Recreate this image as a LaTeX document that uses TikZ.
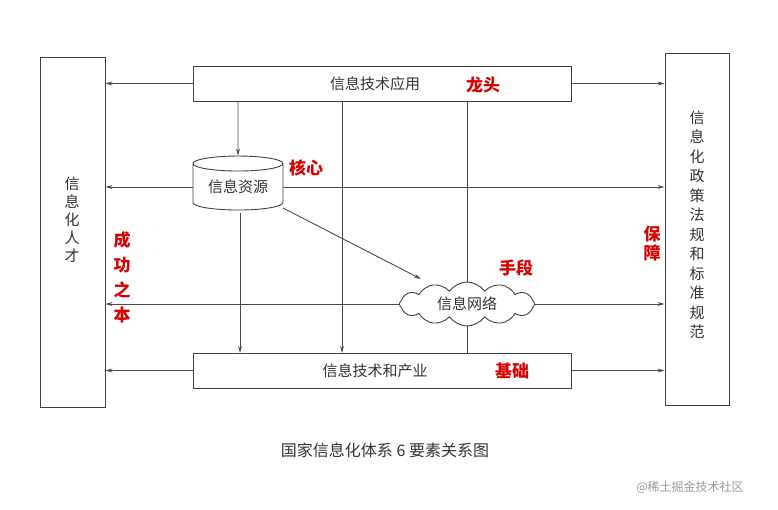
\documentclass[tikz,border=0pt]{standalone}
\usepackage{fontspec}
\setmainfont{Noto Sans CJK SC}
\usetikzlibrary{shapes.geometric,shapes.symbols,arrows.meta,backgrounds}
\begin{document}
\begin{tikzpicture}[x=1pt,y=-1pt,
  box/.style={draw=black!75,line width=0.9pt,inner sep=0pt,fill=white},
  lbl/.style={font=\fontsize{15}{17}\selectfont,text=black!80},
  red/.style={font=\fontsize{17}{19}\selectfont\bfseries,text=red!85!black},
  ln/.style={draw=black!70,line width=0.9pt},
  ar/.style={ln,-{Stealth[length=7pt,width=4pt]}}]
\useasboundingbox (0,0) rectangle (778,510);
\node[box,minimum width=65pt,minimum height=350pt] (L) at (72.5,232) {};
\node[lbl,align=center,font=\fontsize{15}{18}\selectfont] at (72,220) {信\\息\\化\\人\\才};
\node[box,minimum width=64pt,minimum height=352pt] (R) at (697,229) {};
\node[lbl,align=center,font=\fontsize{15}{19.5}\selectfont] at (697,225) {信\\息\\化\\政\\策\\法\\规\\和\\标\\准\\规\\范};
\node[box,minimum width=378pt,minimum height=35pt] (T) at (382,83.5) {};
\node[lbl] at (375,84) {信息技术应用};
\node[box,minimum width=378pt,minimum height=35pt] (B) at (382,370.5) {};
\node[lbl] at (375,371) {信息技术和产业};
\node[box,cylinder,shape border rotate=90,aspect=0.25,minimum width=90pt,minimum height=54pt,lbl] (C) at (238,187) {信息资源};
\node[box,cloud,cloud puffs=12,cloud puff arc=110,aspect=3.2,minimum width=135pt,minimum height=44pt,lbl] (N) at (467,304) {信息网络};
\begin{scope}[on background layer]
% verticals
\draw[ar] (238,101) -- (C.north);
\draw[ar] (240,213) -- (240,353);
\draw[ar] (342,101) -- (342,353);
\draw[ln] (467,101) -- (N.center);
\draw[ln] (N.center) -- (467,353);
% horizontals
\draw[ar] (T.west) -- (L.east |- T.west);
\draw[ar] (T.east) -- (R.west |- T.east);
\draw[ar] (C.west) -- (L.east |- C.west);
\draw[ar] (C.east) -- (R.west |- C.east);
\draw[ar] (N.west) -- (L.east |- N.west);
\draw[ar] (N.east) -- (R.west |- N.east);
\draw[ar] (B.west) -- (L.east |- B.west);
\draw[ar] (B.east) -- (R.west |- B.east);
\draw[ar] (283,208) -- (421,279);
\end{scope}
% red labels
\node[red] at (483,85) {龙头};
\node[red] at (306,168) {核心};
\node[red,align=center,font=\fontsize{17}{25}\selectfont\bfseries] at (122,277) {成\\功\\之\\本};
\node[red] at (516,268) {手段};
\node[red] at (512,371) {基础};
\node[red,align=center] at (652,244) {保\\障};
\node[font=\fontsize{16}{18}\selectfont,text=black!80] at (385,450) {国家信息化体系 6 要素关系图};
\node[font=\fontsize{12}{14}\selectfont,text=black!40] at (690,487) {@稀土掘金技术社区};
\end{tikzpicture}
\end{document}
